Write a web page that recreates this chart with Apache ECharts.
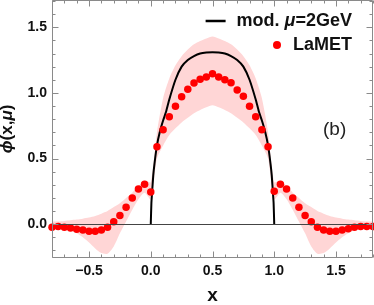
<!DOCTYPE html>
<html>
<head>
<meta charset="utf-8">
<script src="https://cdn.jsdelivr.net/npm/echarts@6/dist/echarts.min.js"></script>
<style>
html,body{margin:0;padding:0;background:#fff;}
#c{width:374px;height:305px;}
</style>
</head>
<body>
<div id="c"></div>
<script>
// ---- data ----
const xDots = [-0.8,-0.75,-0.7,-0.65,-0.6,-0.55,-0.5,-0.45,-0.4,-0.35,-0.3,-0.25,-0.2,-0.15,-0.1,-0.05,
  0,0.05,0.1,0.15,0.2,0.25,0.3,0.35,0.4,0.45,0.5,0.55,0.6,0.65,0.7,0.75,0.8,0.85,0.9,0.95,
  1,1.05,1.1,1.15,1.2,1.25,1.3,1.35,1.4,1.45,1.5,1.55,1.6,1.65,1.7,1.75,1.8];
const yDots = [-0.023,-0.018,-0.023,-0.030,-0.038,-0.045,-0.053,-0.053,-0.045,-0.023,0.018,0.066,0.129,0.200,0.268,0.305,
  0.245,0.590,0.720,0.818,0.899,0.970,1.028,1.076,1.104,1.121,1.146,1.121,1.100,1.078,1.023,0.975,0.899,0.818,0.720,0.590,
  0.250,0.305,0.268,0.200,0.129,0.066,0.018,-0.023,-0.045,-0.053,-0.053,-0.045,-0.035,-0.023,-0.018,-0.018,-0.018];
const bandLower = [-0.013,-0.02,-0.03,-0.045,-0.07,-0.10,-0.14,-0.185,-0.22,-0.225,-0.17,-0.07,0.02,0.11,0.19,0.24,
  0.19,0.50,0.60,0.68,0.73,0.775,0.81,0.845,0.87,0.89,0.905,0.89,0.87,0.845,0.81,0.775,0.73,0.68,0.60,0.50,
  0.19,0.24,0.19,0.11,0.02,-0.07,-0.17,-0.225,-0.22,-0.185,-0.14,-0.10,-0.07,-0.045,-0.03,-0.02,-0.013];
const bandUpper = [0.017,0.02,0.025,0.03,0.035,0.042,0.05,0.062,0.08,0.10,0.13,0.16,0.20,0.24,0.29,0.33,
  0.32,0.70,0.96,1.11,1.21,1.28,1.33,1.37,1.395,1.415,1.43,1.415,1.395,1.37,1.33,1.28,1.21,1.11,0.96,0.70,
  0.32,0.33,0.29,0.24,0.20,0.16,0.13,0.10,0.08,0.062,0.05,0.042,0.035,0.03,0.025,0.02,0.017];
const xModel = [0,0.005,0.01,0.02,0.03,0.05,0.075,0.1,0.125,0.15,0.2,0.25,0.3,0.35,0.4,0.45,0.5,
  0.55,0.6,0.65,0.7,0.75,0.8,0.85,0.875,0.9,0.925,0.95,0.97,0.98,0.99,0.995,1.0];
const yModel = [0,0.16,0.23,0.37,0.46,0.60,0.71,0.79,0.86,0.95,1.10,1.20,1.25,1.28,1.30,1.308,1.31,
  1.308,1.30,1.28,1.25,1.20,1.10,0.95,0.86,0.79,0.71,0.60,0.46,0.37,0.23,0.16,0];
const xMajorTicks = [-0.5,0,0.5,1,1.5];
const xMinorTicks = [-0.8,-0.7,-0.6,-0.4,-0.3,-0.2,-0.1,0.1,0.2,0.3,0.4,0.6,0.7,0.8,0.9,1.1,1.2,1.3,1.4,1.6,1.7,1.8];
const yMajorTicks = [0,0.5,1,1.5];
const yMinorTicks = [-0.2,-0.1,0.1,0.2,0.3,0.4,0.6,0.7,0.8,0.9,1.1,1.2,1.3,1.4,1.6,1.7];
const modelName = 'mod. μ=2GeV';
const dotsName = 'LaMET';

// ---- chart ----
const X_MIN = -0.8, X_MAX = 1.8, Y_MIN = -0.25, Y_MAX = 1.7;
const FONT = '"Liberation Sans", Arial, sans-serif';
const frameColor = '#8a8a8a';
const fmt = v => (v < 0 ? '\u2212' + Math.abs(v).toFixed(1) : v.toFixed(1));

function renderBand(params, api) {
  if (params.dataIndex !== 0) return null;
  const pts = [];
  for (let i = 0; i < xDots.length; i++) pts.push(api.coord([xDots[i], bandUpper[i]]));
  for (let i = xDots.length - 1; i >= 0; i--) pts.push(api.coord([xDots[i], bandLower[i]]));
  return {type: 'polygon', shape: {points: pts, smooth: 0.25}, style: {fill: '#ffd6d6', stroke: null}};
}

const chart = echarts.init(document.getElementById('c'), null, {renderer: 'canvas'});
chart.setOption({
  animation: false,
  grid: {left: 52, right: 1, top: 1, bottom: 48, containLabel: false, outerBoundsMode: 'none'},
  title: {text: '(b)', left: 323, top: 120, padding: 0,
    textStyle: {fontFamily: FONT, fontWeight: 'normal', fontSize: 19, color: '#222'}},
  legend: [
    {data: [{name: modelName, icon: 'rect'}], right: 22, top: 12, padding: 0, itemWidth: 20, itemHeight: 2.5,
      formatter: () => 'mod. {i|μ}=2GeV',
      textStyle: {fontFamily: FONT, fontWeight: 'bold', fontSize: 18, color: '#111', padding: [0, 0, 0, 6],
        rich: {i: {fontFamily: FONT, fontWeight: 'bold', fontStyle: 'italic', fontSize: 18, color: '#111'}}}},
    {data: [{name: dotsName, icon: 'circle'}], right: 22, top: 36, padding: 0, itemWidth: 8, itemHeight: 8,
      textStyle: {fontFamily: FONT, fontWeight: 'bold', fontSize: 18, color: '#111', padding: [0, 0, 0, 7]}}
  ],
  xAxis: {
    type: 'value', min: X_MIN, max: X_MAX, position: 'bottom',
    axisLine: {show: false}, axisTick: {show: false}, splitLine: {show: false},
    axisLabel: {show: true, customValues: xMajorTicks, formatter: fmt, fontFamily: FONT, fontWeight: 'bold', fontSize: 14, color: '#111', margin: 7},
    name: 'x', nameLocation: 'middle', nameGap: 29,
    nameTextStyle: {fontFamily: FONT, fontWeight: 'bold', fontSize: 19, color: '#111'}
  },
  yAxis: {
    type: 'value', min: Y_MIN, max: Y_MAX, position: 'left',
    axisLine: {show: false}, axisTick: {show: false}, splitLine: {show: false},
    axisLabel: {show: true, customValues: yMajorTicks, formatter: fmt, fontFamily: FONT, fontWeight: 'bold', fontSize: 14, color: '#111', margin: 5},
    name: '{i|ϕ}(x,{i|μ})', nameLocation: 'middle', nameGap: 36, nameRotate: 90,
    nameTextStyle: {fontFamily: FONT, fontWeight: 'bold', fontSize: 17, color: '#111',
      rich: {i: {fontFamily: FONT, fontWeight: 'bold', fontStyle: 'italic', fontSize: 17, color: '#111'}}}
  },
  series: [
    {type: 'custom', name: 'band', renderItem: renderBand, clip: true, silent: true, z: 1,
      data: xDots.map((x, i) => [x, bandLower[i], bandUpper[i]]), encode: {x: 0, y: [1, 2]}},
    {type: 'line', name: modelName, smooth: 0.2, showSymbol: false, symbol: 'none',
      data: xModel.map((x, i) => [x, yModel[i]]), lineStyle: {color: '#000', width: 2}, itemStyle: {color: '#000'}, z: 3,
      markLine: {silent: true, symbol: 'none', label: {show: false}, lineStyle: {color: '#444', width: 1, type: 'solid'},
        data: [{yAxis: 0}]}},
    {type: 'scatter', name: dotsName, symbol: 'circle', symbolSize: 7.5,
      data: xDots.map((x, i) => [x, yDots[i]]), itemStyle: {color: '#ff0000', opacity: 1}, z: 4}
  ]
});

// Frame and ticks: positions obtained from the chart's own scales
const P = (x, y) => chart.convertToPixel({gridIndex: 0}, [x, y]);
const crisp = v => Math.round(v) + 0.5;
const seg = (x1, y1, x2, y2) => ({type: 'line', silent: true, z: 100,
  shape: {x1, y1, x2, y2}, style: {stroke: frameColor, lineWidth: 1}});
const tl = P(X_MIN, Y_MAX), br = P(X_MAX, Y_MIN);
const L = crisp(tl[0]), R = crisp(br[0]) - 1, T = crisp(tl[1]) - 1, B = crisp(br[1]);
const els = [
  seg(L, T, R, T), seg(L, B, R, B), seg(L, T, L, B), seg(R, T, R, B)
];
function addX(ticks, len) {
  ticks.forEach(v => { const px = crisp(P(v, Y_MIN)[0]); els.push(seg(px, B, px, B - len)); els.push(seg(px, T, px, T + len)); });
}
function addY(ticks, len) {
  ticks.forEach(v => { const py = crisp(P(X_MIN, v)[1]); els.push(seg(L, py, L + len, py)); els.push(seg(R, py, R - len, py)); });
}
addX(xMajorTicks, 6); addX(xMinorTicks, 3);
addY(yMajorTicks, 6); addY(yMinorTicks, 3);
chart.setOption({graphic: {elements: els}});
</script>
</body>
</html>
